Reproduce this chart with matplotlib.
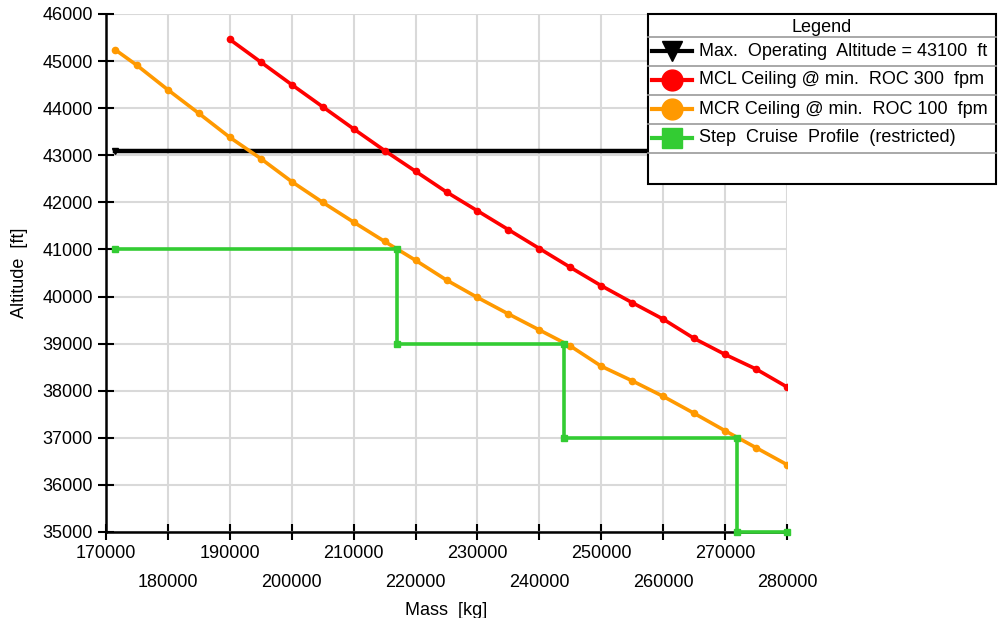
import numpy as np
import matplotlib.pyplot as plt
from matplotlib.lines import Line2D
from matplotlib.patches import Rectangle

plt.rcParams['font.family'] = ['Liberation Sans', 'DejaVu Sans']

# MCL ceiling @ min ROC 300 fpm
mcl_mass = [190000, 195000, 200000, 205000, 210000, 215000, 220000, 225000,
            230000, 235000, 240000, 245000, 250000, 255000, 260000, 265000,
            270000, 275000, 280000]
mcl_alt = [45460, 44980, 44500, 44030, 43560, 43100, 42660, 42220,
           41820, 41420, 41020, 40620, 40230, 39870, 39520, 39110,
           38770, 38460, 38080]

# MCR ceiling @ min ROC 100 fpm
mcr_mass = [171500, 175000, 180000, 185000, 190000, 195000, 200000, 205000,
            210000, 215000, 220000, 225000, 230000, 235000, 240000, 245000,
            250000, 255000, 260000, 265000, 270000, 275000, 280000]
mcr_alt = [45240, 44910, 44390, 43890, 43380, 42930, 42440, 42000,
           41580, 41170, 40770, 40350, 39980, 39630, 39290, 38950,
           38520, 38210, 37880, 37520, 37150, 36790, 36430]

# max operating altitude
mo_mass = [171500, 280000]
mo_alt = [43100, 43100]

# step cruise profile
step_mass = [171500, 217000, 217000, 244000, 244000, 272000, 272000, 280000]
step_alt = [41000, 41000, 39000, 39000, 37000, 37000, 35000, 35000]

legend_labels = ['Max.  Operating  Altitude = 43100  ft',
                 'MCL Ceiling @ min.  ROC 300  fpm',
                 'MCR Ceiling @ min.  ROC 100  fpm',
                 'Step  Cruise  Profile  (restricted)']

W, H = 999, 618
fig = plt.figure(figsize=(W / 100, H / 100), dpi=100)
ax = fig.add_axes([106 / W, 1 - 532 / H, 681 / W, 518 / H])

ax.plot(mo_mass, mo_alt, color='black', lw=3.2, marker='v', ms=5, zorder=3)
ax.plot(mcr_mass, mcr_alt, color='#ff9900', lw=2.6, marker='o', ms=4.5, zorder=4)
ax.plot(mcl_mass, mcl_alt, color='#ff0000', lw=2.6, marker='o', ms=4.5, zorder=4)
ax.plot(step_mass, step_alt, color='#33cc33', lw=2.6, marker='s', ms=4.5,
        zorder=5, clip_on=False)

ax.set_xlim(170000, 280000)
ax.set_ylim(35000, 46000)
ax.set_yticks(np.arange(35000, 46001, 1000))
ax.set_xticks(np.arange(170000, 280001, 20000))
ax.set_xticks(np.arange(180000, 280001, 20000), minor=True)
ax.set_xticklabels([str(v) for v in range(170000, 280001, 20000)])
ax.set_xticklabels([str(v) for v in range(180000, 280001, 20000)], minor=True)

ax.tick_params(axis='both', which='both', direction='inout', length=11,
               width=1.5, labelsize=13, colors='black')
ax.tick_params(axis='x', which='major', pad=4)
ax.tick_params(axis='x', which='minor', pad=25)
ax.tick_params(axis='y', pad=4)

ax.grid(True, which='both', color='#d9d9d9', lw=1.5)
ax.set_axisbelow(True)
for s in ['top', 'right']:
    ax.spines[s].set_visible(False)
for s in ['left', 'bottom']:
    ax.spines[s].set_linewidth(1.8)

ax.set_xlabel('Mass  [kg]', fontsize=13, labelpad=8)
ax.set_ylabel('Altitude  [ft]', fontsize=13, labelpad=10)

# legend box drawn as a table
def fx(px):
    return px / W

def fy(py):
    return 1 - py / H

box_l, box_r, box_t, box_b = 648, 996, 14, 184
fig.add_artist(Rectangle((fx(box_l), fy(box_b)), fx(box_r - box_l), (box_b - box_t) / H,
                         transform=fig.transFigure, facecolor='white',
                         edgecolor='black', lw=1.5, zorder=10))
fig.text(fx((box_l + box_r) / 2), fy(27), 'Legend', ha='center', va='center',
         fontsize=13, zorder=11)
for sep in [37, 66, 95, 124, 153]:
    fig.add_artist(Line2D([fx(box_l), fx(box_r)], [fy(sep), fy(sep)],
                          transform=fig.transFigure, color='#999999', lw=1.2, zorder=11))

handle_styles = [('black', 'v', 15), ('#ff0000', 'o', 15),
                 ('#ff9900', 'o', 15), ('#33cc33', 's', 14)]
row_centers = [51, 80, 109, 138]
for (c, m, ms), lab, yc in zip(handle_styles, legend_labels, row_centers):
    fig.add_artist(Line2D([fx(652), fx(692)], [fy(yc), fy(yc)],
                          transform=fig.transFigure, color=c, lw=3, zorder=12))
    fig.add_artist(Line2D([fx(672)], [fy(yc)], transform=fig.transFigure,
                          color=c, marker=m, ms=ms, lw=0, zorder=12))
    fig.text(fx(699), fy(yc), lab, ha='left', va='center', fontsize=13, zorder=12)

fig.savefig('out.png', dpi=100)
